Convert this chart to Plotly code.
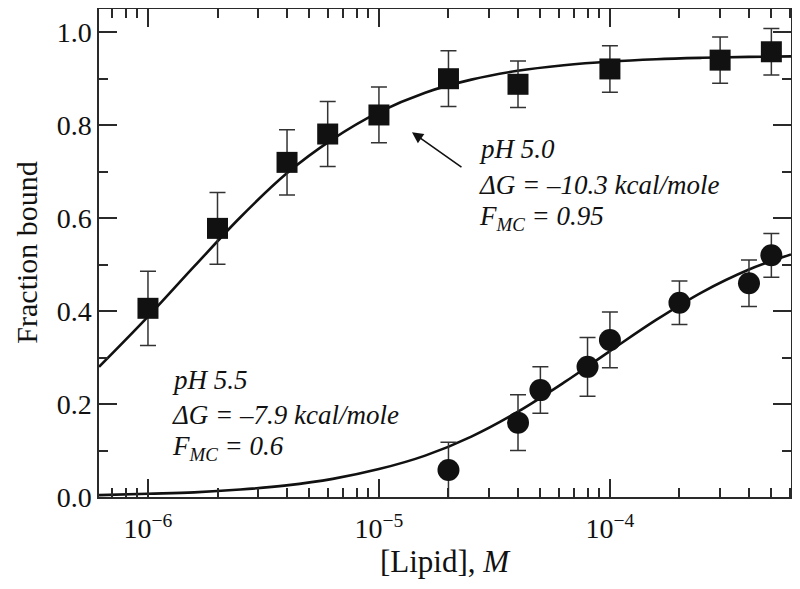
import plotly.graph_objects as go

# --- data ---
lipid_ph50 = [1e-6, 2e-6, 4e-6, 6e-6, 1e-5, 2e-5, 4e-5, 1e-4, 3e-4, 5e-4]
bound_ph50 = [0.406, 0.578, 0.720, 0.781, 0.822, 0.900, 0.888, 0.921, 0.940, 0.958]
err_ph50 = [0.080, 0.077, 0.070, 0.070, 0.060, 0.060, 0.050, 0.050, 0.050, 0.050]

lipid_ph55 = [2e-5, 4e-5, 5e-5, 8e-5, 1e-4, 2e-4, 4e-4, 5e-4]
bound_ph55 = [0.058, 0.160, 0.230, 0.280, 0.338, 0.418, 0.460, 0.520]
err_ph55 = [0.060, 0.060, 0.050, 0.063, 0.060, 0.047, 0.050, 0.047]

# fitted curves
fit_x = [6.14e-7, 1.0e-6, 1.585e-6, 2.512e-6, 3.98e-6, 6.31e-6, 1.0e-5, 1.585e-5,
         2.512e-5, 3.98e-5, 6.31e-5, 1.0e-4, 1.585e-4, 2.512e-4, 3.98e-4, 6.08e-4]
fit50_y = [0.280, 0.388, 0.496, 0.602, 0.696, 0.770, 0.828, 0.870,
           0.898, 0.917, 0.929, 0.937, 0.942, 0.945, 0.947, 0.948]
fit55_y = [0.004, 0.007, 0.010, 0.016, 0.025, 0.039, 0.060, 0.089,
           0.130, 0.183, 0.246, 0.314, 0.381, 0.441, 0.489, 0.522]

x_tickvals = [1e-6, 1e-5, 1e-4]
x_ticktext = ["10<sup>\u22126</sup>", "10<sup>\u22125</sup>", "10<sup>\u22124</sup>"]

label_ph50 = ["<i>pH 5.0</i>", "<i>\u0394G = \u201310.3 kcal/mole</i>", "<i>F<sub>MC</sub> = 0.95</i>"]
label_ph55 = ["<i>pH 5.5</i>", "<i>\u0394G = \u20137.9 kcal/mole</i>", "<i>F<sub>MC</sub> = 0.6</i>"]

ink = "#111111"
axis_col = "#2a2a2a"
font_fam = "Liberation Serif"

fig = go.Figure()

fig.add_trace(go.Scatter(x=fit_x, y=fit50_y, mode="lines", line=dict(color=ink, width=2.6, shape="spline"),
                         hoverinfo="skip", showlegend=False))
fig.add_trace(go.Scatter(x=fit_x, y=fit55_y, mode="lines", line=dict(color=ink, width=2.6, shape="spline"),
                         hoverinfo="skip", showlegend=False))

fig.add_trace(go.Scatter(
    x=lipid_ph50, y=bound_ph50, mode="markers",
    marker=dict(symbol="square", size=21, color=ink),
    error_y=dict(type="data", array=err_ph50, visible=True, color="#333333", thickness=1.5, width=8),
    showlegend=False))
fig.add_trace(go.Scatter(
    x=lipid_ph55, y=bound_ph55, mode="markers",
    marker=dict(symbol="circle", size=22, color=ink),
    error_y=dict(type="data", array=err_ph55, visible=True, color="#333333", thickness=1.5, width=8),
    showlegend=False))

ann_font = dict(family=font_fam, size=27, color=ink)
for txt, yy in zip(label_ph50, [0.713, 0.639, 0.572]):
    fig.add_annotation(xref="paper", yref="paper", x=0.546, y=yy, xanchor="left", yanchor="middle",
                       text=txt, showarrow=False, align="left", font=ann_font)
for txt, yy in zip(label_ph55, [0.240, 0.168, 0.100]):
    fig.add_annotation(xref="paper", yref="paper", x=0.103, y=yy, xanchor="left", yanchor="middle",
                       text=txt, showarrow=False, align="left", font=ann_font)
# arrow pointing to pH 5.0 curve
fig.add_annotation(xref="x", yref="y", x=-4.857, y=0.785, ax=51, ay=36, text="",
                   showarrow=True, arrowhead=2, arrowsize=1.4, arrowwidth=1.6, arrowcolor=ink)

# axis titles
fig.add_annotation(xref="paper", yref="paper", x=0.5, y=-0.133, xanchor="center", yanchor="middle",
                   text="[Lipid], <i>M</i>", showarrow=False, font=dict(family=font_fam, size=31, color=ink))
fig.add_annotation(xref="paper", yref="paper", x=-0.106, y=0.5, xanchor="center", yanchor="middle",
                   text="Fraction bound", textangle=-90, showarrow=False,
                   font=dict(family=font_fam, size=30, color=ink))

fig.update_layout(
    width=792, height=581,
    margin=dict(l=91, r=9, t=1, b=92),
    paper_bgcolor="white", plot_bgcolor="white",
    font=dict(family=font_fam, size=28, color=ink),
)
fig.update_xaxes(
    type="log", range=[-6.212, -3.216], automargin=False,
    tickvals=x_tickvals, ticktext=x_ticktext,
    ticks="inside", ticklen=18, tickwidth=1.5, tickcolor=axis_col, ticklabelstandoff=6,
    minor=dict(ticks="inside", ticklen=9, tickwidth=1.5, tickcolor=axis_col, dtick="D1", showgrid=False),
    showline=True, linecolor=axis_col, linewidth=1.5, mirror="allticks",
    showgrid=False, zeroline=False,
    tickfont=dict(family=font_fam, size=28),
)
fig.update_yaxes(
    range=[0, 1.05], tickvals=[0, 0.2, 0.4, 0.6, 0.8, 1.0], tickformat=".1f", automargin=False,
    ticks="inside", ticklen=18, tickwidth=1.5, tickcolor=axis_col,
    minor=dict(ticks="inside", ticklen=9, tickwidth=1.5, tickcolor=axis_col, dtick=0.1, showgrid=False),
    showline=True, linecolor=axis_col, linewidth=1.5, mirror="allticks",
    showgrid=False, zeroline=False,
    tickfont=dict(family=font_fam, size=28),
)

fig.write_html("out.html")
